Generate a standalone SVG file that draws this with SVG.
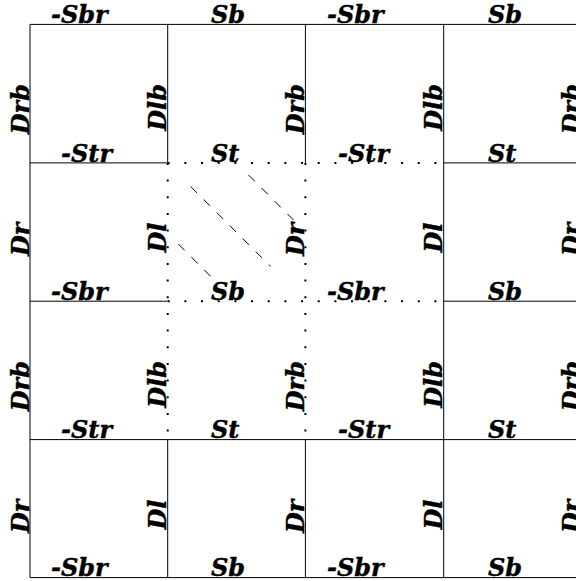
<svg xmlns="http://www.w3.org/2000/svg" width="576" height="581" viewBox="0 0 576 581">
<style>
.g{stroke:#000;stroke-width:1;fill:none}
.d{stroke:#000;stroke-width:2;fill:none;stroke-dasharray:2 14.67}
.dash{stroke:#000;stroke-width:1;fill:none;stroke-dasharray:9 9.4}
text{font-family:"DejaVu Serif","Liberation Serif",serif;font-weight:bold;font-style:italic;font-size:24px;fill:#000;stroke:#000;stroke-width:0.4}
.v{text-anchor:end}
</style>
<rect width="576" height="581" fill="#fff"/>
<g id="grid">
<line class="g" x1="30" y1="24.4" x2="581.5" y2="24.4"/>
<line class="g" x1="30" y1="577.6" x2="581.5" y2="577.6"/>
<line class="g" x1="30" y1="439.6" x2="581.5" y2="439.6"/>
<line class="g" x1="30" y1="162.9" x2="167.7" y2="162.9"/>
<line class="g" x1="443.7" y1="162.9" x2="581.5" y2="162.9"/>
<line class="g" x1="30" y1="301.2" x2="167.7" y2="301.2"/>
<line class="g" x1="443.7" y1="301.2" x2="581.5" y2="301.2"/>
<line class="g" x1="30" y1="24.4" x2="30" y2="577.6"/>
<line class="g" x1="443.7" y1="24.4" x2="443.7" y2="577.6"/>
<line class="g" x1="167.7" y1="24.4" x2="167.7" y2="162.9"/>
<line class="g" x1="167.7" y1="439.6" x2="167.7" y2="577.6"/>
<line class="g" x1="305.4" y1="24.4" x2="305.4" y2="162.9"/>
<line class="g" x1="305.4" y1="439.6" x2="305.4" y2="577.6"/>
</g>
<g id="dotted">
<line class="d" x1="167.7" y1="162.9" x2="443.7" y2="162.9"/>
<line class="d" x1="167.7" y1="301.2" x2="443.7" y2="301.2"/>
<line class="d" x1="167.7" y1="162.9" x2="167.7" y2="439.6"/>
<line class="d" x1="305.4" y1="162.9" x2="305.4" y2="439.6"/>
</g>
<g id="diagonals">
<line class="dash" x1="248.5" y1="175" x2="293.5" y2="220"/>
<line class="dash" x1="190.7" y1="186.5" x2="270.5" y2="266.3"/>
<line class="dash" x1="178.3" y1="244" x2="212" y2="277.7"/>
</g>
<g id="labels-top">
<text x="51" y="23">-Sbr</text>
<text x="211" y="23">Sb</text>
<text x="327" y="23">-Sbr</text>
<text x="488" y="23">Sb</text>
</g>
<g id="labels-row1">
<text x="61" y="161.5">-Str</text>
<text x="211" y="161.5">St</text>
<text x="338" y="161.5">-Str</text>
<text x="488" y="161.5">St</text>
</g>
<g id="labels-row2">
<text x="51" y="299.8">-Sbr</text>
<text x="211" y="299.8">Sb</text>
<text x="327" y="299.8">-Sbr</text>
<text x="488" y="299.8">Sb</text>
</g>
<g id="labels-row3">
<text x="61" y="438.2">-Str</text>
<text x="211" y="438.2">St</text>
<text x="338" y="438.2">-Str</text>
<text x="488" y="438.2">St</text>
</g>
<g id="labels-row4">
<text x="51" y="576.2">-Sbr</text>
<text x="211" y="576.2">Sb</text>
<text x="327" y="576.2">-Sbr</text>
<text x="488" y="576.2">Sb</text>
</g>
<g id="labels-vertical">
<text class="v" transform="translate(28.5,84) rotate(-90)">Drb</text>
<text class="v" transform="translate(166.2,84) rotate(-90)">Dlb</text>
<text class="v" transform="translate(303.9,84) rotate(-90)">Drb</text>
<text class="v" transform="translate(442.2,84) rotate(-90)">Dlb</text>
<text class="v" transform="translate(580,84) rotate(-90)">Drb</text>
<text class="v" transform="translate(28.5,222.5) rotate(-90)">Dr</text>
<text class="v" transform="translate(166.2,222.5) rotate(-90)">Dl</text>
<text class="v" transform="translate(303.9,222.5) rotate(-90)">Dr</text>
<text class="v" transform="translate(442.2,222.5) rotate(-90)">Dl</text>
<text class="v" transform="translate(580,222.5) rotate(-90)">Dr</text>
<text class="v" transform="translate(28.5,361) rotate(-90)">Drb</text>
<text class="v" transform="translate(166.2,361) rotate(-90)">Dlb</text>
<text class="v" transform="translate(303.9,361) rotate(-90)">Drb</text>
<text class="v" transform="translate(442.2,361) rotate(-90)">Dlb</text>
<text class="v" transform="translate(580,361) rotate(-90)">Drb</text>
<text class="v" transform="translate(28.5,499.5) rotate(-90)">Dr</text>
<text class="v" transform="translate(166.2,499.5) rotate(-90)">Dl</text>
<text class="v" transform="translate(303.9,499.5) rotate(-90)">Dr</text>
<text class="v" transform="translate(442.2,499.5) rotate(-90)">Dl</text>
<text class="v" transform="translate(580,499.5) rotate(-90)">Dr</text>
</g>
</svg>
